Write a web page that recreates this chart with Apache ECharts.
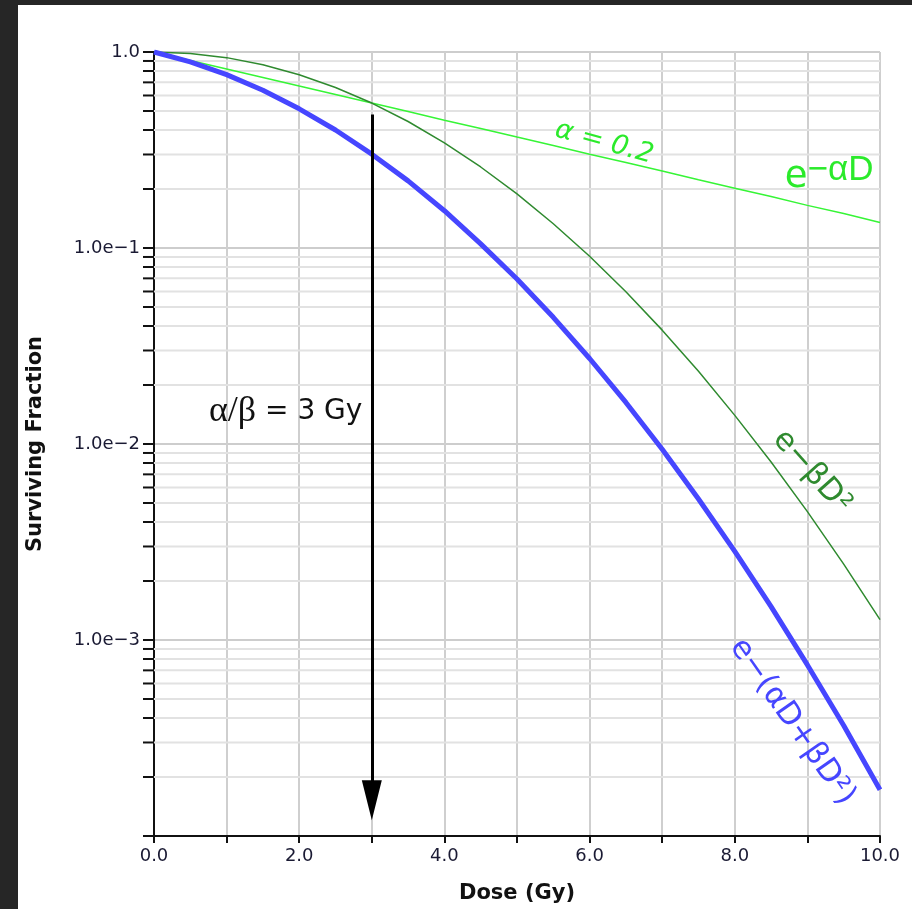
<!DOCTYPE html>
<html>
<head>
<meta charset="utf-8">
<script src="https://cdn.jsdelivr.net/npm/echarts@6/dist/echarts.min.js"></script>
<style>
  html, body { margin: 0; padding: 0; background: #262626; }
  #panel { position: absolute; left: 18px; top: 5px; width: 894px; height: 904px; background: #fff; }
  #chart-wrap { position: absolute; left: 0; top: 0; width: 912px; height: 909px; }
</style>
</head>
<body>
<div id="panel"></div>
<div id="chart-wrap"></div>
<script>
// dose in Gy
const doses = [0, 0.5, 1, 1.5, 2, 2.5, 3, 3.5, 4, 4.5, 5, 5.5, 6, 6.5, 7, 7.5, 8, 8.5, 9, 9.5, 10]
// e^-aD  (alpha = 0.2)
const alphaOnly = [1, 0.905, 0.819, 0.741, 0.670, 0.607, 0.549, 0.497, 0.449, 0.407, 0.368,
  0.333, 0.301, 0.273, 0.247, 0.223, 0.202, 0.183, 0.165, 0.150, 0.135]
// e^-bD^2
const betaOnly = [1, 0.983, 0.936, 0.861, 0.766, 0.659, 0.549, 0.442, 0.344, 0.259, 0.189,
  0.133, 0.0907, 0.0598, 0.0381, 0.0235, 0.0140, 0.0081, 0.00452, 0.00244, 0.00127]
// e^-(aD+bD^2)
const combined = [1, 0.890, 0.767, 0.638, 0.513, 0.400, 0.301, 0.220, 0.155, 0.105, 0.0695,
  0.0443, 0.0273, 0.0163, 0.00941, 0.00524, 0.00283, 0.00148, 0.000746, 0.000366, 0.000172]
// minor log ticks on the y axis
const minorTicks = [
  0.9, 0.8, 0.7, 0.6, 0.5, 0.4, 0.3, 0.2,
  0.09, 0.08, 0.07, 0.06, 0.05, 0.04, 0.03, 0.02,
  0.009, 0.008, 0.007, 0.006, 0.005, 0.004, 0.003, 0.002,
  0.0009, 0.0008, 0.0007, 0.0006, 0.0005, 0.0004, 0.0003, 0.0002
]
const yLabels = { 1: '1.0', 0.1: '1.0e\u22121', 0.01: '1.0e\u22122', 0.001: '1.0e\u22123' }
// arrow: alpha/beta dose
const arrowDose = 3
const arrowFrom = 0.48
const arrowTo = 0.000152

const font = 'DejaVu Sans'
const pair = (ys) => doses.map((d, i) => [d, ys[i]])

const mychart = echarts.init(document.querySelector('#chart-wrap'))
const option = {
  backgroundColor: 'transparent',
  animation: false,
  grid: { left: 154, right: 32, top: 52, bottom: 73 },
  xAxis: {
    type: 'value',
    min: 0,
    max: 10,
    interval: 1,
    name: 'Dose (Gy)',
    nameLocation: 'middle',
    nameGap: 47,
    nameTextStyle: { fontFamily: font, fontWeight: 'bold', fontSize: 21, color: '#111' },
    axisLine: { lineStyle: { color: '#111', width: 2 } },
    axisTick: { show: true, length: 7, lineStyle: { color: '#111', width: 2 } },
    axisLabel: {
      fontFamily: font, fontSize: 18, color: '#1a1a33', margin: 11,
      formatter: (v) => (v % 2 === 0 ? v.toFixed(1) : '')
    },
    splitLine: { show: true, lineStyle: { color: '#cfcfcf', width: 2 } }
  },
  yAxis: {
    type: 'log',
    min: 0.0001,
    max: 1,
    logBase: 10,
    name: 'Surviving Fraction',
    nameLocation: 'middle',
    nameGap: 108,
    nameTextStyle: { fontFamily: font, fontWeight: 'bold', fontSize: 21, color: '#111' },
    axisLine: { show: true, lineStyle: { color: '#111', width: 2 } },
    axisTick: { show: true, length: 11, lineStyle: { color: '#111', width: 2 } },
    axisLabel: {
      fontFamily: font, fontSize: 18, color: '#1a1a33', margin: 14,
      formatter: (v) => {
        for (const k in yLabels) {
          if (Math.abs(Math.log10(v) - Math.log10(+k)) < 1e-6) return yLabels[k]
        }
        return ''
      }
    },
    splitLine: { show: true, lineStyle: { color: '#cdcdcd', width: 2 } }
  },
  series: [
    {
      type: 'custom',
      name: 'minor',
      clip: false,
      silent: true,
      z: 1,
      data: minorTicks.map((v) => [0, v]),
      renderItem (params, api) {
        const p = api.coord([0, api.value(1)])
        const w = params.coordSys.width
        return {
          type: 'group',
          children: [
            { type: 'line', shape: { x1: p[0], y1: p[1], x2: p[0] + w, y2: p[1] },
              style: { stroke: '#e2e2e2', lineWidth: 2 } },
            { type: 'line', shape: { x1: p[0] - 11, y1: p[1], x2: p[0], y2: p[1] },
              style: { stroke: '#111', lineWidth: 2 } }
          ]
        }
      }
    },
    {
      name: 'alpha',
      type: 'line',
      showSymbol: false,
      z: 3,
      data: pair(alphaOnly),
      lineStyle: { color: '#36f536', width: 1.5 }
    },
    {
      name: 'beta',
      type: 'line',
      showSymbol: false,
      z: 3,
      data: pair(betaOnly),
      lineStyle: { color: '#2f8a2f', width: 1.5 }
    },
    {
      name: 'combined',
      type: 'line',
      showSymbol: false,
      z: 4,
      data: pair(combined),
      lineStyle: { color: '#4646ff', width: 5 },
      markLine: {
        silent: true,
        symbol: ['none', 'triangle'],
        symbolSize: [20, 40],
        label: { show: false },
        lineStyle: { color: '#000', width: 3, type: 'solid' },
        data: [[{ coord: [arrowDose, arrowFrom] }, { coord: [arrowDose, arrowTo] }]]
      }
    }
  ]
}
mychart.setOption(option)

// text annotations placed through the chart's own scales
const at = (d, v) => mychart.convertToPixel({ gridIndex: 0 }, [d, v])
const notes = [
  { pos: at(2.87, 0.0146), text: '{g|\u03b1/\u03b2} = 3 Gy', align: 'right', rot: 0,
    color: '#111', size: 28, rich: { g: { fontFamily: 'Liberation Serif', fontSize: 36, fill: '#111' } } },
  { pos: at(6.2, 0.345), text: '\u03b1 = 0.2', align: 'center', rot: -0.27, color: '#2bea2b', size: 27, italic: true },
  { pos: at(9.3, 0.23), text: 'e{s|\u2212\u03b1D}', align: 'center', rot: 0, color: '#2bea2b', size: 37,
    rich: { s: { fontSize: 35, fill: '#2bea2b', padding: [0, 0, 14, 0] } } },
  { pos: at(9.06, 0.0072), text: 'e\u2212\u03b2D\u00b2', align: 'center', rot: -0.84, color: '#2f8a2f', size: 31 },
  { pos: at(8.79, 0.000382), text: 'e\u2212(\u03b1D+\u03b2D\u00b2)', align: 'center', rot: -0.96, color: '#4646ff', size: 31 }
]
mychart.setOption({
  graphic: notes.map((n) => ({
    type: 'text',
    x: n.pos[0],
    y: n.pos[1],
    rotation: n.rot,
    z: 10,
    silent: true,
    style: {
      text: n.text,
      fill: n.color,
      fontFamily: font,
      fontSize: n.size,
      fontStyle: n.italic ? 'italic' : 'normal',
      align: n.align,
      verticalAlign: 'middle',
      rich: n.rich
    }
  }))
})

window.addEventListener('resize', function () {
  mychart.resize()
})
</script>
</body>
</html>
